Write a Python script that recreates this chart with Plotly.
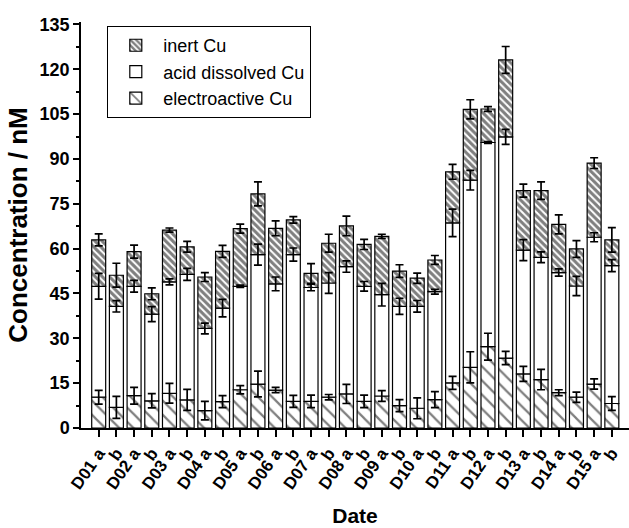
import numpy as np
import plotly.graph_objects as go

dates = ["D%02d" % i for i in range(1, 16)]
categories = [f"{d} {s}" for d in dates for s in ("a", "b")]
tick_labels = [f"{d} a" if s == "a" else "b" for d in dates for s in ("a", "b")]

# cumulative tops of each stacked segment (nM)
electroactive = [10.3, 6.9, 10.8, 9.1, 11.6, 9.4, 5.8, 8.8, 12.8, 14.7, 12.7, 8.9, 8.9, 10.3, 11.4,
                 8.9, 10.7, 7.5, 6.6, 9.5, 15.1, 20.3, 27.2, 23.4, 18.1, 16.2, 11.8, 10.3, 14.7, 8.2]
electroactive_err = [2.3, 3.7, 2.8, 2.4, 3.3, 3.5, 3.1, 2.0, 1.4, 4.3, 0.9, 2.0, 2.1, 0.9, 3.2,
                     2.1, 1.8, 2.0, 3.5, 2.7, 2.2, 5.2, 4.5, 2.2, 2.5, 3.4, 1.0, 1.7, 1.7, 2.3]
acid_total = [47.4, 40.7, 47.4, 38.1, 48.9, 51.4, 33.3, 40.1, 47.4, 58.0, 48.2, 58.0, 47.0, 48.5, 54.0,
              47.4, 44.6, 40.7, 40.7, 45.6, 68.6, 82.9, 95.5, 97.4, 59.5, 57.1, 52.0, 47.5, 63.8, 54.3]
acid_err = [4.3, 1.9, 1.95, 2.5, 1.0, 2.0, 1.8, 2.9, 0.4, 3.5, 2.3, 2.2, 1.1, 3.5, 1.9,
            1.6, 3.8, 2.7, 1.95, 0.8, 4.6, 3.3, 0.3, 2.5, 3.5, 1.8, 1.2, 3.2, 1.5, 2.0]
inert_total = [62.9, 51.1, 59.0, 44.9, 66.2, 60.6, 50.5, 59.1, 66.7, 78.3, 66.8, 69.6, 51.7, 61.8, 67.6,
               61.4, 64.1, 52.5, 50.1, 56.2, 85.7, 106.6, 106.7, 123.1, 79.4, 79.4, 68.1, 59.9, 88.6, 62.9]
inert_err = [2.0, 4.0, 2.2, 2.0, 0.7, 1.8, 1.5, 2.0, 1.5, 4.0, 2.5, 1.1, 3.3, 3.0, 3.3,
             1.7, 0.7, 2.1, 1.7, 1.5, 2.5, 3.2, 0.8, 4.5, 2.2, 2.9, 3.2, 2.8, 1.8, 4.1]

e = np.array(electroactive)
a = np.array(acid_total)
t = np.array(inert_total)
zero = np.zeros_like(e)

FONT = "Liberation Sans, Arial, sans-serif"
line = dict(color="black", width=1.2)
BW = 0.79

fig = go.Figure()
fig.add_trace(go.Bar(x=categories, y=e, base=zero, width=BW, name="electroactive Cu", legendrank=3,
                     marker=dict(color="white", line=line,
                                 pattern=dict(shape="\\", fgcolor="black", bgcolor="white",
                                              size=10, solidity=0.22))))
fig.add_trace(go.Bar(x=categories, y=a - e, base=e, width=BW, name="acid dissolved Cu", legendrank=2,
                     marker=dict(color="#ffffff", line=line)))
fig.add_trace(go.Bar(x=categories, y=t - a, base=a, width=BW, name="inert Cu", legendrank=1,
                     marker=dict(color="white", line=line,
                                 pattern=dict(shape="\\", fgcolor="black", bgcolor="white",
                                              size=5, solidity=0.6))))

for tops, errs in ((electroactive, electroactive_err), (acid_total, acid_err), (inert_total, inert_err)):
    fig.add_trace(go.Scatter(x=categories, y=tops, mode="markers", showlegend=False,
                             marker=dict(size=1, color="rgba(0,0,0,0)"), hoverinfo="skip",
                             error_y=dict(type="data", array=errs, visible=True,
                                          color="black", thickness=1.7, width=4)))

fig.update_layout(
    width=629, height=528,
    margin=dict(l=81, r=0, t=22, b=100),
    barmode="overlay",
    plot_bgcolor="white", paper_bgcolor="white",
    font=dict(family=FONT, color="black"),
    showlegend=True, hovermode=False,
    legend=dict(x=0.048, y=0.99, xanchor="left", yanchor="top",
                bordercolor="black", borderwidth=1, bgcolor="white",
                font=dict(family=FONT, size=18, color="black"),
                traceorder="normal", itemwidth=45),
)
fig.update_xaxes(
    type="category", categoryorder="array", categoryarray=categories,
    tickmode="array", tickvals=categories, ticktext=tick_labels,
    tickangle=-55, tickfont=dict(family=FONT, size=17, weight="bold"),
    range=[-1, 29.97], showline=True, linecolor="black", linewidth=1.5,
    ticks="outside", ticklen=7, tickwidth=1.5, tickcolor="black",
    title=dict(text="Date", font=dict(family=FONT, size=21, weight="bold"), standoff=16),
    showgrid=False, zeroline=False,
)
fig.update_yaxes(
    range=[0, 135.8], tickmode="linear", tick0=0, dtick=15,
    tickfont=dict(family=FONT, size=18, weight="bold"),
    showline=True, linecolor="black", linewidth=1.5,
    ticks="outside", ticklen=6, tickwidth=1.5, tickcolor="black",
    minor=dict(ticks="outside", dtick=7.5, ticklen=3, tickwidth=1.5, tickcolor="black", showgrid=False),
    title=dict(text="Concentration / nM", font=dict(family=FONT, size=26, weight="bold"), standoff=5),
    showgrid=False, zeroline=False,
)

fig.write_html("out.html", config={"displayModeBar": False})
